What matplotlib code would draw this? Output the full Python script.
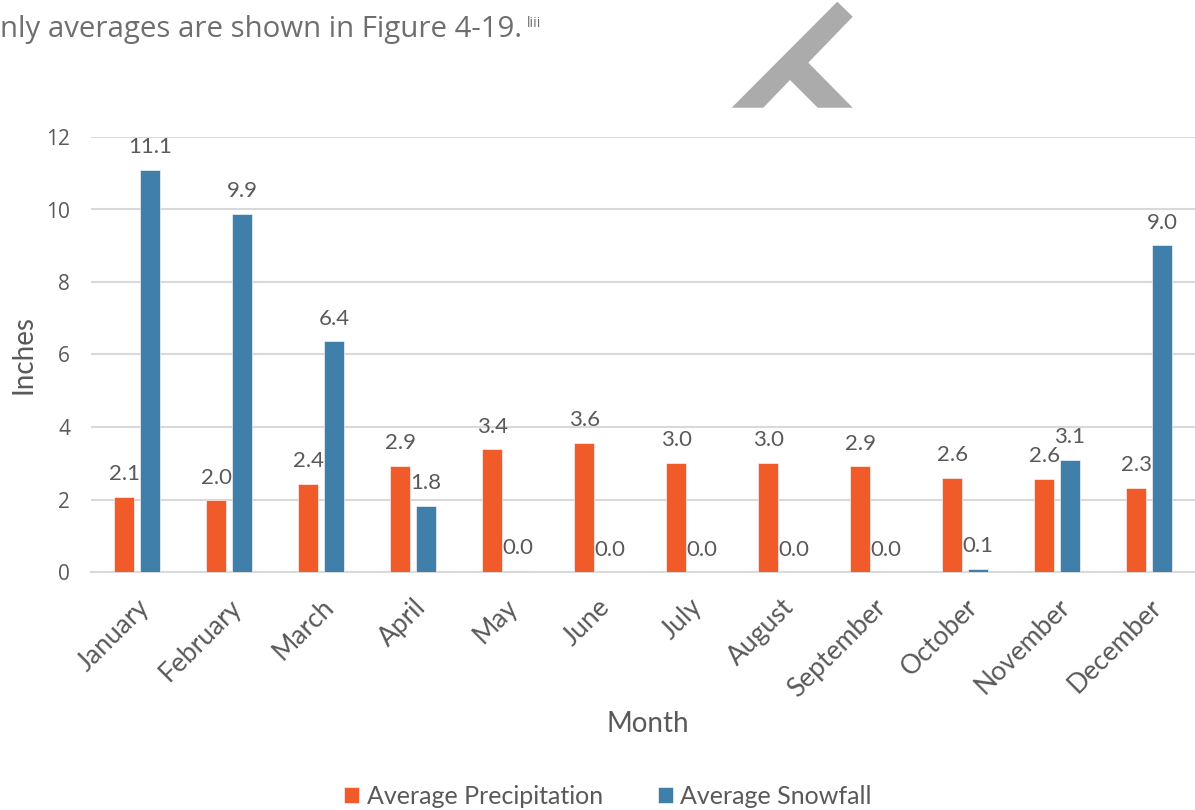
import matplotlib
matplotlib.use("Agg")
import matplotlib.pyplot as plt
from matplotlib.patches import Polygon
import numpy as np

# data
months = ["January", "February", "March", "April", "May", "June", "July",
          "August", "September", "October", "November", "December"]
precipitation = [2.07, 1.98, 2.43, 2.93, 3.39, 3.56, 3.02, 3.02, 2.92, 2.60, 2.57, 2.33]
snowfall = [11.10, 9.88, 6.37, 1.83, 0.03, 0.0, 0.0, 0.0, 0.0, 0.09, 3.10, 9.02]
yticks = [0, 2, 4, 6, 8, 10, 12]

ORANGE = "#F15A29"
BLUE = "#417FAB"
TEXT = "#595959"
GRID = "#D9D9D9"

plt.rcParams["font.family"] = ["Lato", "DejaVu Sans"]

W, H = 1195, 810
fig = plt.figure(figsize=(W / 100, H / 100), dpi=100)

# watermark fragment behind the chart
wm = [(837.3, 1.7), (852.7, 16.7), (808.3, 62.7), (852.7, 107.7), (817.7, 107.7),
      (790.0, 80.0), (763.3, 107.7), (731.7, 107.7)]
fig.patches.append(Polygon([(x / W, 1 - y / H) for x, y in wm], closed=True,
                           transform=fig.transFigure, facecolor="#ABABAB",
                           edgecolor="none", zorder=0))

# fragment of the surrounding document text, sized to its width in the reference
doc = fig.text(0, 1 - 37 / H, "nly averages are shown in Figure 4-19.", fontsize=19,
               color="#6E6E6E", family=["Open Sans", "DejaVu Sans"], ha="left", va="baseline")
r = fig.canvas.get_renderer()
doc.set_fontsize(19 * 522 / doc.get_window_extent(r).width)
fig.text(527 / W, 1 - 27 / H, "liii", fontsize=10, color="#6E6E6E",
         family=["Open Sans", "DejaVu Sans"], ha="left", va="baseline")

ax = fig.add_axes([91 / W, 1 - 572 / H, (W - 91) / W, (572 - 137) / H])
ax.set_facecolor("none")

x = np.arange(len(months))
bw = 0.22
off = 0.14
b1 = ax.bar(x - off, precipitation, bw, color=ORANGE, edgecolor="white",
            linewidth=0.4, label="Average Precipitation", zorder=3)
b2 = ax.bar(x + off, snowfall, bw, color=BLUE, edgecolor="white",
            linewidth=0.4, label="Average Snowfall", zorder=3)

for bars, vals in ((b1, precipitation), (b2, snowfall)):
    for rect, v in zip(bars, vals):
        ax.annotate(f"{v:.1f}", (rect.get_x() + rect.get_width() / 2, v),
                    xytext=(0, 9), textcoords="offset points", ha="center",
                    va="bottom", fontsize=16, color=TEXT)

ax.set_xlim(-0.5, len(months) - 0.5)
ax.set_ylim(0, 12)
ax.set_yticks(yticks)
ax.yaxis.grid(True, color=GRID, linewidth=1.5, zorder=0)
ax.set_axisbelow(True)
for s in ("top", "right", "left"):
    ax.spines[s].set_visible(False)
ax.spines["bottom"].set_color(GRID)
ax.spines["bottom"].set_linewidth(1.5)
ax.tick_params(axis="both", length=0, colors=TEXT)
ax.tick_params(axis="y", labelsize=15, pad=15)
for lab in ax.get_yticklabels():
    lab.set_family(["Open Sans", "DejaVu Sans"])

ax.set_xticks(x)
ax.set_xticklabels(months, rotation=45, ha="right", rotation_mode="anchor",
                   fontsize=19, color=TEXT)
ax.tick_params(axis="x", pad=16)

ax.set_ylabel("Inches", fontsize=20, color=TEXT, va="center")
ax.yaxis.set_label_coords((24 - 91) / (W - 91), (572 - 355) / (572 - 137))
ax.set_xlabel("Month", fontsize=20, color=TEXT)
ax.xaxis.set_label_coords((648 - 91) / (W - 91), -(711 - 572) / (572 - 137))

fig.legend(handles=[b1, b2], loc="center", bbox_to_anchor=(608 / W, 1 - 796 / H),
           ncol=2, frameon=False, fontsize=18, labelcolor=TEXT,
           handlelength=0.6, handleheight=0.6, handletextpad=0.3, columnspacing=2.2)

fig.savefig("out.png", dpi=100, facecolor="white")
